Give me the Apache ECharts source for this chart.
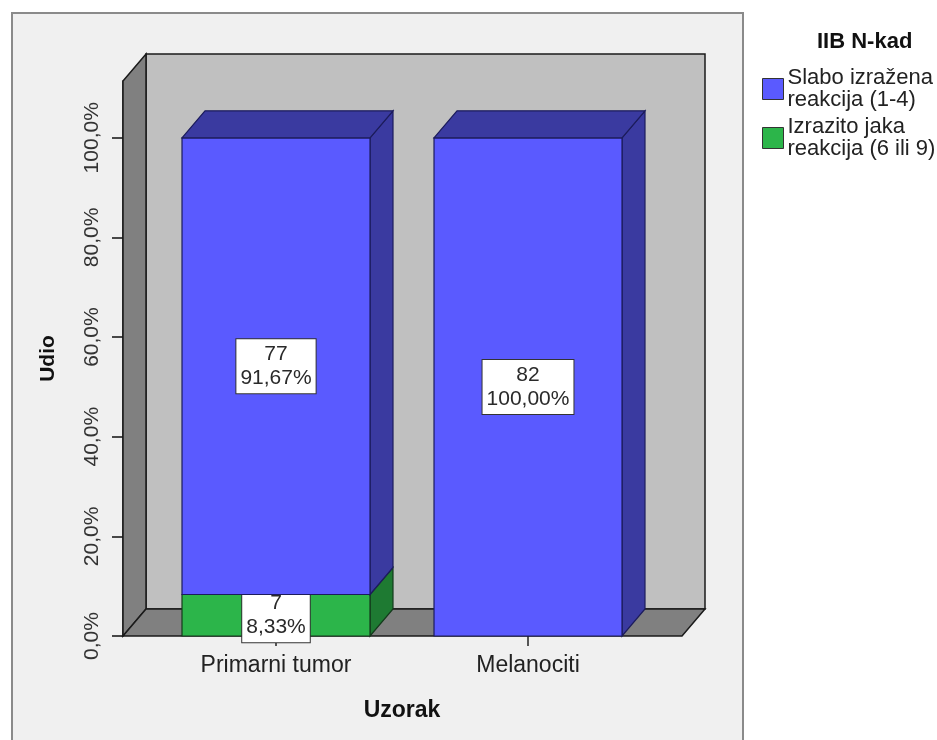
<!DOCTYPE html>
<html>
<head>
<meta charset="utf-8">
<script src="https://cdn.jsdelivr.net/npm/echarts@6/dist/echarts.min.js"></script>
<style>
html,body{margin:0;padding:0;background:#ffffff;}
#chart{width:937px;height:740px;}
</style>
</head>
<body>
<div id="chart"></div>
<script>
// ---- data ----
const categories = ['Primarni tumor', 'Melanociti'];
const slaboCounts = [77, 82];
const slaboPct = [91.67, 100.00];
const jakaCounts = [7, 0];
const jakaPct = [8.33, 0.00];
const yTicks = [0, 20, 40, 60, 80, 100];
const seriesNames = ['Slabo izražena\nreakcija (1-4)', 'Izrazito jaka\nreakcija (6 ili 9)'];
const legendTitle = 'IIB N-kad';
const xTitle = 'Uzorak';
const yTitle = 'Udio';

// ---- styling constants ----
const FONT = '"Liberation Sans", Arial, sans-serif';
const DX = 23, DY = -27;          // depth vector
const EXT_L = 27, EXT_R = 28;     // floor extension beyond category band area
const BAR_FRAC = 0.746;

function fmtPct(v) { return v.toFixed(2).replace('.', ',') + '%'; }

const chart = echarts.init(document.getElementById('chart'), null, {renderer: 'canvas'});

function wallsRender(params, api) {
  const cs = params.coordSys;
  const xL = cs.x - EXT_L, xR = cs.x + cs.width + EXT_R;
  const yT = cs.y, yB = cs.y + cs.height;
  const stroke = {stroke: '#1a1a1a', lineWidth: 1.5};
  return {
    type: 'group',
    children: [
      {type: 'polygon', shape: {points: [[xL + DX, yT + DY], [xR + DX, yT + DY], [xR + DX, yB + DY], [xL + DX, yB + DY]]},
        style: Object.assign({fill: '#c0c0c0'}, stroke)},
      {type: 'polygon', shape: {points: [[xL, yT], [xL + DX, yT + DY], [xL + DX, yB + DY], [xL, yB]]},
        style: Object.assign({fill: '#808080'}, stroke)},
      {type: 'polygon', shape: {points: [[xL, yB], [xL + DX, yB + DY], [xR + DX, yB + DY], [xR, yB]]},
        style: Object.assign({fill: '#808080'}, stroke)}
    ]
  };
}

function makeBarRender(front, dark, edge, isTop) {
  return function (params, api) {
    const ci = api.value(0);
    const base = api.value(1), top = api.value(2);
    if (top - base <= 0) return null;
    const pT = api.coord([ci, top]);
    const pB = api.coord([ci, base]);
    const bw = api.size([1, 0])[0] * BAR_FRAC;
    const x0 = pT[0] - bw / 2, x1 = pT[0] + bw / 2;
    const yT = pT[1], yB = pB[1];
    const st = {stroke: edge, lineWidth: 1.2};
    const children = [
      {type: 'polygon', shape: {points: [[x1, yT], [x1 + DX, yT + DY], [x1 + DX, yB + DY], [x1, yB]]},
        style: Object.assign({fill: dark}, st)},
      {type: 'rect', shape: {x: x0, y: yT, width: bw, height: yB - yT},
        style: Object.assign({fill: front}, st)}
    ];
    if (isTop) {
      children.push({type: 'polygon', shape: {points: [[x0, yT], [x0 + DX, yT + DY], [x1 + DX, yT + DY], [x1, yT]]},
        style: Object.assign({fill: dark}, st)});
    }
    children.push({
      type: 'text', x: pT[0], y: (yT + yB) / 2, z2: 10,
      style: {
        text: api.value(3) + '\n' + fmtPct(api.value(4)),
        font: '21px ' + FONT, fill: '#2a2a2a', align: 'center', verticalAlign: 'middle',
        lineHeight: 24, backgroundColor: '#ffffff', borderColor: '#333', borderWidth: 1,
        padding: [3, 4, 3, 4]
      }
    });
    return {type: 'group', children: children};
  };
}

const jakaData = categories.map((c, i) => [i, 0, jakaPct[i], jakaCounts[i], jakaPct[i]]);
const slaboData = categories.map((c, i) => [i, jakaPct[i], jakaPct[i] + slaboPct[i], slaboCounts[i], slaboPct[i]]);

const option = {
  animation: false,
  backgroundColor: '#ffffff',
  graphic: [{
    type: 'rect', z: -10, silent: true,
    shape: {x: 12, y: 13, width: 731, height: 760},
    style: {fill: '#f0f0f0', stroke: '#8a8a8a', lineWidth: 2}
  }],
  title: {
    text: legendTitle, left: 812, top: 26,
    textStyle: {fontFamily: FONT, fontSize: 22, fontWeight: 'bold', color: '#111'}
  },
  legend: {
    orient: 'vertical', left: 757, top: 62,
    itemWidth: 21, itemHeight: 21, itemGap: 5,
    icon: 'rect',
    data: [seriesNames[0], seriesNames[1]],
    itemStyle: {borderColor: '#333', borderWidth: 1},
    textStyle: {fontFamily: FONT, fontSize: 22, lineHeight: 22, color: '#222', padding: [0, 0, 0, -1]}
  },
  grid: {left: 150, right: 283, top: 81, bottom: 104, containLabel: false},
  xAxis: {
    type: 'category', data: categories,
    axisLine: {show: false},
    axisTick: {show: true, alignWithLabel: true, length: 10, lineStyle: {color: '#222', width: 1.5}},
    axisLabel: {fontFamily: FONT, fontSize: 23, color: '#222', margin: 18},
    name: xTitle, nameLocation: 'middle', nameGap: 63,
    nameTextStyle: {fontFamily: FONT, fontSize: 23, fontWeight: 'bold', color: '#111'}
  },
  yAxis: {
    type: 'value', min: 0, max: 111.4, offset: EXT_L,
    axisLine: {show: true, lineStyle: {color: '#111', width: 1.5}},
    axisTick: {show: true, length: 11, customValues: yTicks, lineStyle: {color: '#111', width: 1.5}},
    axisLabel: {
      customValues: yTicks, rotate: 90, margin: 20,
      fontFamily: FONT, fontSize: 21, color: '#333',
      formatter: v => v.toFixed(1).replace('.', ',') + '%'
    },
    splitLine: {show: false},
    name: yTitle, nameLocation: 'middle', nameGap: 64, nameRotate: 90,
    nameTextStyle: {fontFamily: FONT, fontSize: 21, fontWeight: 'bold', color: '#111'}
  },
  series: [
    {type: 'custom', name: 'walls', z: 1, clip: false, silent: true, data: [[0]], renderItem: wallsRender,
      legendHoverLink: false},
    {type: 'custom', name: seriesNames[1], z: 3, clip: false,
      itemStyle: {color: '#2cb54a', borderColor: '#333'},
      encode: {x: 0, y: [1, 2]},
      data: jakaData, renderItem: makeBarRender('#2cb54a', '#1e7a32', '#143a1c', false)},
    {type: 'custom', name: seriesNames[0], z: 4, clip: false,
      itemStyle: {color: '#5a5aff', borderColor: '#333'},
      encode: {x: 0, y: [1, 2]},
      data: slaboData, renderItem: makeBarRender('#5a5aff', '#3a3aa0', '#1c1c5c', true)}
  ]
};
chart.setOption(option);
</script>
</body>
</html>
